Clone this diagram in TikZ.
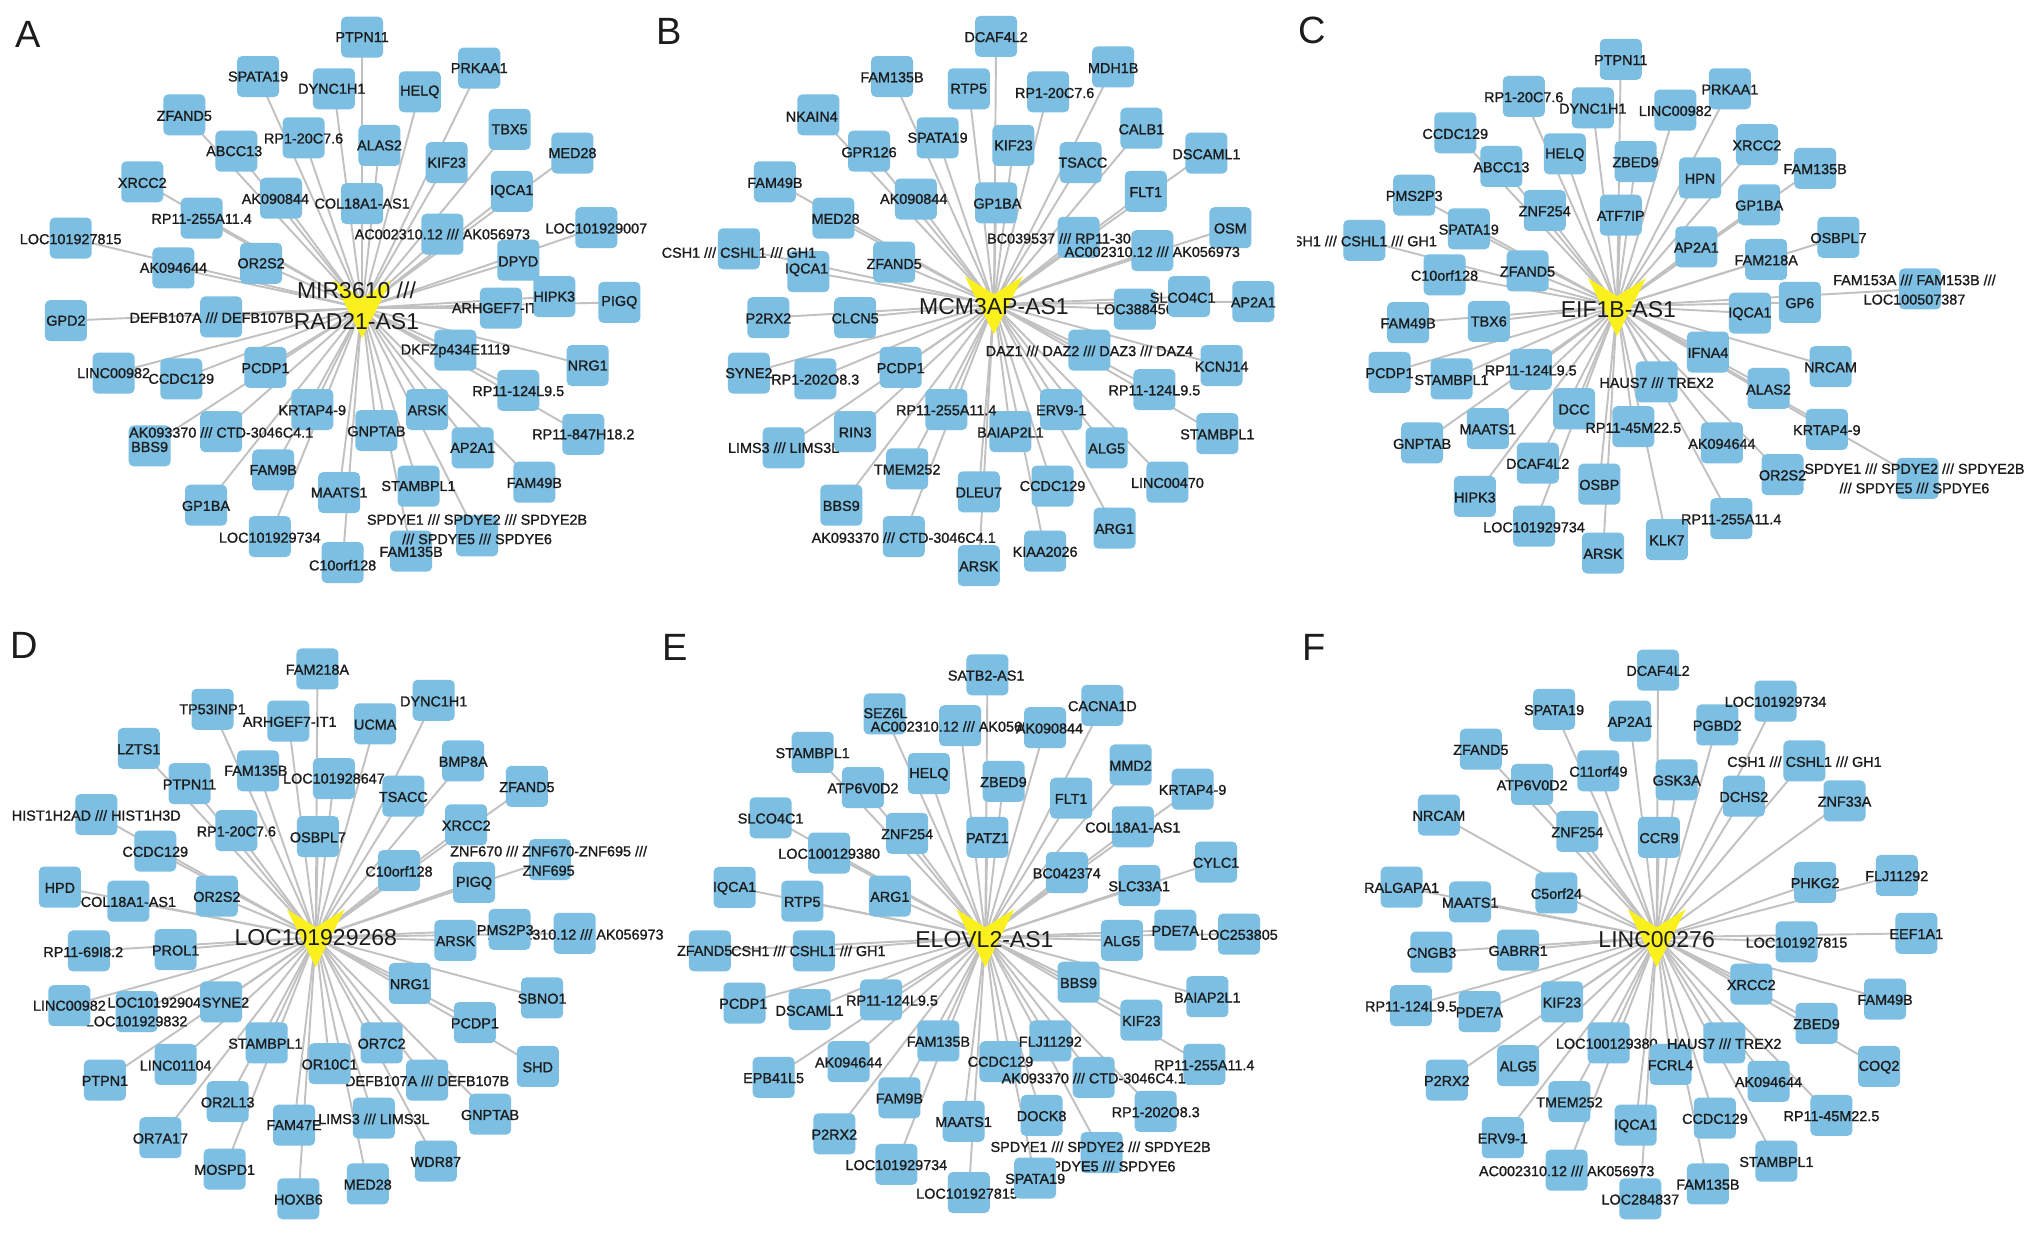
\documentclass[tikz,border=0pt]{standalone}
\usepackage{fontspec}
\setmainfont{Liberation Sans}
\newfontfamily\gfont{Liberation Sans}[FakeBold=1.2]
\definecolor{boxblue}{RGB}{124,191,227}
\definecolor{edgegray}{RGB}{193,193,193}
\definecolor{vyel}{RGB}{250,240,30}
\definecolor{txt}{RGB}{28,28,28}
\newcounter{gnc}
\tikzset{
  gbox/.style={rectangle,rounded corners=2.5pt,minimum width=21pt,minimum height=20.5pt,inner sep=0pt,fill=boxblue,draw=none},
  glab/.style={inner sep=0pt,align=center,text=txt,font=\gfont\fontsize{7.2pt}{9.7pt}\selectfont},
  clab/.style={inner sep=0pt,align=center,text=txt,font=\fontsize{11.5pt}{15.5pt}\selectfont},
  edge/.style={draw=edgegray,line width=0.95pt},
  plet/.style={inner sep=0pt,text=txt,font=\fontsize{19pt}{19pt}\selectfont}
}
% data: \gn{box}{label}{text} normal; \gu{box}{label}{text} drawn under other boxes;
% \go{box}{label}{text} drawn over other labels;
% \gx{box}{label1}{text1}{label2}{text2} under, two labels; \gc{box}{label}{text} clipped label
\newcommand\panelA{%
\gn{835,97}{835,97}{PTPN11}
\gn{595,200}{595,200}{SPATA19}
\gn{770,232}{765,232}{DYNC1H1}
\gn{968,240}{968,240}{HELQ}
\gn{1105,178}{1105,178}{PRKAA1}
\gn{425,300}{425,303}{ZFAND5}
\gn{700,360}{700,362}{RP1-20C7.6}
\gn{875,380}{875,380}{ALAS2}
\gn{545,395}{540,395}{ABCC13}
\gn{1175,338}{1175,338}{TBX5}
\gn{1320,400}{1320,400}{MED28}
\gn{1030,425}{1030,425}{KIF23}
\gn{328,475}{328,478}{XRCC2}
\gn{1180,500}{1180,500}{IQCA1}
\gn{648,518}{635,520}{AK090844}
\gn{835,532}{835,532}{COL18A1-AS1}
\gn{465,570}{465,572}{RP11-255A11.4}
\gn{163,622}{163,625}{LOC101927815}
\gn{1020,612}{1020,612}{AC002310.12 /// AK056973}
\gn{1375,595}{1375,597}{LOC101929007}
\gn{602,688}{602,688}{OR2S2}
\gn{400,700}{400,700}{AK094644}
\gn{1195,680}{1195,683}{DPYD}
\gu{1155,805}{1150,805}{ARHGEF7-IT1}
\gn{1278,775}{1278,775}{HIPK3}
\gn{1428,790}{1428,790}{PIGQ}
\gn{152,838}{152,838}{GPD2}
\gn{510,828}{488,830}{DEFB107A /// DEFB107B}
\gn{1050,915}{1050,917}{DKFZp434E1119}
\gn{1355,955}{1355,955}{NRG1}
\gn{262,975}{262,975}{LINC00982}
\gn{418,990}{418,990}{CCDC129}
\gn{612,960}{612,962}{PCDP1}
\gn{1195,1020}{1195,1022}{RP11-124L9.5}
\gn{720,1070}{720,1072}{KRTAP4-9}
\gn{985,1070}{985,1072}{ARSK}
\gn{510,1128}{510,1130}{AK093370 /// CTD-3046C4.1}
\gn{345,1165}{345,1168}{BBS9}
\gn{868,1125}{868,1127}{GNPTAB}
\gn{1345,1135}{1345,1135}{RP11-847H18.2}
\gn{1090,1170}{1090,1170}{AP2A1}
\gn{630,1228}{630,1228}{FAM9B}
\gn{965,1270}{965,1270}{STAMBPL1}
\gn{1232,1260}{1232,1262}{FAM49B}
\gn{782,1287}{782,1287}{MAATS1}
\gn{475,1320}{475,1322}{GP1BA}
\gn{1100,1400}{1100,1383}{SPDYE1 /// SPDYE2 /// SPDYE2B\\/// SPDYE5 /// SPDYE6}
\gn{622,1402}{622,1405}{LOC101929734}
\gn{948,1440}{948,1442}{FAM135B}
\gn{790,1470}{790,1477}{C10orf128}
}
\newcommand\panelB{%
\gn{775,95}{775,97}{DCAF4L2}
\gn{535,200}{535,202}{FAM135B}
\gn{712,232}{712,232}{RTP5}
\gn{1045,175}{1045,178}{MDH1B}
\gn{895,240}{910,243}{RP1-20C7.6}
\gn{365,300}{350,305}{NKAIN4}
\gn{640,360}{640,360}{SPATA19}
\gn{815,380}{815,380}{KIF23}
\gn{1110,335}{1110,338}{CALB1}
\gn{482,395}{482,398}{GPR126}
\gn{970,425}{975,425}{TSACC}
\gn{1260,400}{1260,403}{DSCAML1}
\gn{265,475}{265,478}{FAM49B}
\gn{1120,500}{1120,502}{FLT1}
\gn{590,520}{585,520}{AK090844}
\gn{775,530}{778,532}{GP1BA}
\gn{400,570}{405,572}{MED28}
\gn{1315,595}{1315,597}{OSM}
\gn{965,620}{920,623}{BC039537 /// RP11-30}
\gn{1135,655}{1135,658}{AC002310.12 /// AK056973}
\gn{182,650}{182,660}{CSH1 /// CSHL1 /// GH1}
\gn{342,710}{338,705}{IQCA1}
\gn{540,685}{540,690}{ZFAND5}
\gu{1095,808}{1095,808}{LOC388456}
\gn{1220,775}{1205,778}{SLCO4C1}
\gn{1368,788}{1368,790}{AP2A1}
\gn{250,830}{250,832}{P2RX2}
\gn{450,830}{450,832}{CLCN5}
\gn{990,915}{990,917}{DAZ1 /// DAZ2 /// DAZ3 /// DAZ4}
\gn{1295,955}{1295,958}{KCNJ14}
\gn{205,975}{205,975}{SYNE2}
\gn{358,990}{358,992}{RP1-202O8.3}
\gn{555,960}{555,962}{PCDP1}
\gn{1140,1018}{1140,1020}{RP11-124L9.5}
\gn{660,1070}{660,1072}{RP11-255A11.4}
\gn{925,1070}{925,1072}{ERV9-1}
\gn{808,1128}{808,1130}{BAIAP2L1}
\gn{450,1128}{450,1130}{RIN3}
\gn{1285,1133}{1285,1135}{STAMBPL1}
\gn{285,1170}{285,1170}{LIMS3 /// LIMS3L}
\gn{1030,1170}{1030,1172}{ALG5}
\gn{570,1225}{570,1227}{TMEM252}
\gn{735,1285}{735,1287}{DLEU7}
\gn{905,1270}{905,1270}{CCDC129}
\gn{1170,1260}{1170,1262}{LINC00470}
\gn{418,1320}{418,1322}{BBS9}
\gn{562,1402}{562,1405}{AK093370 /// CTD-3046C4.1}
\gn{1048,1380}{1048,1382}{ARG1}
\gn{888,1440}{888,1442}{KIAA2026}
\gn{735,1478}{735,1480}{ARSK}
}
\newcommand\panelC{%
\gn{688,155}{688,157}{PTPN11}
\gn{922,232}{922,234}{PRKAA1}
\gn{480,252}{480,254}{RP1-20C7.6}
\gn{628,282}{628,284}{DYNC1H1}
\gn{805,288}{805,290}{LINC00982}
\gn{333,347}{333,350}{CCDC129}
\gn{980,378}{980,380}{XRCC2}
\gn{568,402}{568,404}{HELQ}
\gn{720,422}{720,424}{ZBED9}
\gn{432,435}{432,437}{ABCC13}
\gn{1105,440}{1105,442}{FAM135B}
\gn{858,465}{858,467}{HPN}
\gn{245,510}{245,512}{PMS2P3}
\gn{525,550}{525,552}{ZNF254}
\gn{985,535}{985,537}{GP1BA}
\gn{688,562}{688,564}{ATF7IP}
\gn{362,598}{362,600}{SPATA19}
\gn{1155,620}{1155,622}{OSBPL7}
\gc{138,628}{128,630}{CSH1 /// CSHL1 /// GH1}
\gn{310,718}{310,720}{C10orf128}
\gn{488,708}{488,710}{ZFAND5}
\gn{850,645}{850,647}{AP2A1}
\gn{1000,678}{1000,680}{FAM218A}
\gn{1330,755}{1318,757}{FAM153A /// FAM153B ///\\LOC100507387}
\gn{1072,790}{1072,792}{GP6}
\gn{965,818}{965,820}{IQCA1}
\gn{232,843}{232,845}{FAM49B}
\gn{405,840}{405,840}{TBX6}
\gn{875,920}{875,922}{IFNA4}
\gn{1138,958}{1138,960}{NRCAM}
\gn{192,973}{192,975}{PCDP1}
\gn{325,990}{325,993}{STAMBPL1}
\gn{495,965}{495,968}{RP11-124L9.5}
\gn{765,998}{765,1000}{HAUS7 /// TREX2}
\gn{1005,1015}{1005,1018}{ALAS2}
\gn{588,1068}{588,1070}{DCC}
\gn{1130,1122}{1130,1124}{KRTAP4-9}
\gn{403,1120}{403,1122}{MAATS1}
\gn{715,1115}{715,1118}{RP11-45M22.5}
\gn{905,1157}{905,1160}{AK094644}
\gn{262,1157}{262,1160}{GNPTAB}
\gn{510,1210}{510,1212}{DCAF4L2}
\gn{1035,1240}{1035,1242}{OR2S2}
\gn{1325,1250}{1318,1250}{SPDYE1 /// SPDYE2 /// SPDYE2B\\/// SPDYE5 /// SPDYE6}
\gn{642,1265}{642,1267}{OSBP}
\gn{375,1297}{375,1300}{HIPK3}
\gn{502,1375}{502,1378}{LOC101929734}
\gn{925,1355}{925,1357}{RP11-255A11.4}
\gn{787,1410}{787,1412}{KLK7}
\gn{650,1445}{650,1447}{ARSK}
}
\newcommand\panelD{%
\gn{732,125}{732,127}{FAM218A}
\gn{490,228}{490,228}{TP53INP1}
\gn{1000,205}{1000,208}{DYNC1H1}
\gn{665,258}{668,260}{ARHGEF7-IT1}
\gn{865,265}{865,267}{UCMA}
\gn{320,328}{320,330}{LZTS1}
\gn{1068,360}{1068,362}{BMP8A}
\gn{595,385}{590,385}{FAM135B}
\gn{770,405}{770,405}{LOC101928647}
\gn{437,418}{437,420}{PTPN11}
\gn{1215,425}{1215,427}{ZFAND5}
\gn{930,450}{930,452}{TSACC}
\gn{222,497}{222,499}{HIST1H2AD /// HIST1H3D}
\gn{1075,523}{1075,525}{XRCC2}
\gn{545,538}{545,540}{RP1-20C7.6}
\gn{733,553}{733,555}{OSBPL7}
\gn{358,590}{358,592}{CCDC129}
\gn{1268,612}{1265,615}{ZNF670 /// ZNF670-ZNF695 ///\\ZNF695}
\gn{920,640}{920,642}{C10orf128}
\gn{138,682}{138,684}{HPD}
\gn{1093,670}{1093,672}{PIGQ}
\gn{296,718}{296,720}{COL18A1-AS1}
\gn{500,705}{500,707}{OR2S2}
\gu{1325,800}{1328,803}{AC002310.12 /// AK056973}
\gn{1175,790}{1165,792}{PMS2P3}
\gn{1050,818}{1050,820}{ARSK}
\gn{205,845}{192,848}{RP11-69I8.2}
\gn{405,842}{405,844}{PROL1}
\gn{945,928}{945,930}{NRG1}
\gn{1250,965}{1250,967}{SBNO1}
\gx{315,1000}{365,977}{LOC101929040}{315,1025}{LOC101929832}
\gn{160,985}{160,985}{LINC00982}
\gn{510,975}{520,977}{SYNE2}
\gn{1095,1028}{1095,1030}{PCDP1}
\gn{615,1080}{612,1082}{STAMBPL1}
\gn{880,1080}{880,1082}{OR7C2}
\gn{1240,1140}{1240,1142}{SHD}
\gn{405,1135}{405,1138}{LINC01104}
\gn{760,1133}{760,1135}{OR10C1}
\gn{242,1175}{242,1177}{PTPN1}
\gu{985,1175}{985,1177}{DEFB107A /// DEFB107B}
\gn{525,1230}{525,1232}{OR2L13}
\gn{1130,1262}{1130,1264}{GNPTAB}
\gn{678,1290}{678,1290}{FAM47E}
\gn{862,1272}{862,1274}{LIMS3 /// LIMS3L}
\gn{370,1322}{370,1324}{OR7A17}
\gn{1005,1382}{1005,1384}{WDR87}
\gn{518,1402}{518,1404}{MOSPD1}
\gn{848,1440}{848,1442}{MED28}
\gn{688,1478}{688,1480}{HOXB6}
}
\newcommand\panelE{%
\gn{755,140}{752,142}{SATB2-AS1}
\gn{518,240}{520,238}{SEZ6L}
\gn{692,270}{688,272}{AC002310.12 /// AK056973}
\gn{1020,218}{1020,220}{CACNA1D}
\go{888,275}{898,277}{AK090844}
\gn{352,338}{352,340}{STAMBPL1}
\gn{620,392}{620,394}{HELQ}
\gn{792,412}{792,414}{ZBED9}
\gn{1085,370}{1085,372}{MMD2}
\gn{468,428}{468,430}{ATP6V0D2}
\gn{948,455}{948,457}{FLT1}
\gn{1228,432}{1228,434}{KRTAP4-9}
\gn{255,505}{255,507}{SLCO4C1}
\gn{570,545}{570,547}{ZNF254}
\gn{755,555}{755,557}{PATZ1}
\gn{1090,528}{1090,530}{COL18A1-AS1}
\gn{390,595}{390,597}{LOC100129380}
\gn{938,645}{938,647}{BC042374}
\gn{1282,618}{1282,620}{CYLC1}
\gn{172,683}{172,685}{IQCA1}
\gn{328,718}{328,720}{RTP5}
\gn{530,705}{530,707}{ARG1}
\gn{1105,678}{1105,680}{SLC33A1}
\gn{1188,792}{1188,794}{PDE7A}
\gn{1335,802}{1335,804}{LOC253805}
\gn{1065,818}{1065,820}{ALG5}
\gn{115,845}{103,845}{ZFAND5}
\gn{355,845}{342,845}{CSH1 /// CSHL1 /// GH1}
\gn{195,978}{192,980}{PCDP1}
\gn{345,995}{345,998}{DSCAML1}
\gn{510,970}{535,972}{RP11-124L9.5}
\gn{965,925}{965,927}{BBS9}
\gn{1262,962}{1262,964}{BAIAP2L1}
\gn{1110,1022}{1110,1024}{KIF23}
\gn{642,1075}{642,1077}{FAM135B}
\gn{900,1075}{900,1077}{FLJ11292}
\gn{785,1128}{785,1128}{CCDC129}
\gn{435,1128}{435,1130}{AK094644}
\gn{262,1168}{262,1170}{EPB41L5}
\gn{1255,1135}{1255,1137}{RP11-255A11.4}
\gn{1000,1168}{1000,1170}{AK093370 /// CTD-3046C4.1}
\gn{552,1220}{552,1222}{FAM9B}
\gn{880,1265}{880,1267}{DOCK8}
\gn{700,1280}{700,1282}{MAATS1}
\gn{1143,1255}{1143,1257}{RP1-202O8.3}
\gn{402,1312}{402,1314}{P2RX2}
\gu{1018,1360}{1016,1370}{SPDYE1 /// SPDYE2 /// SPDYE2B\\/// SPDYE5 /// SPDYE6}
\gn{545,1390}{545,1392}{LOC101929734}
\gu{712,1462}{708,1465}{LOC101927815}
\gn{865,1425}{865,1427}{SPATA19}
}
\newcommand\panelF{%
\gn{768,128}{768,130}{DCAF4L2}
\gn{545,228}{545,230}{SPATA19}
\gn{1020,207}{1020,209}{LOC101929734}
\gn{708,258}{708,260}{AP2A1}
\gn{895,268}{895,270}{PGBD2}
\gn{388,330}{388,332}{ZFAND5}
\gn{1082,360}{1082,362}{CSH1 /// CSHL1 /// GH1}
\gn{640,385}{640,387}{C11orf49}
\gn{498,420}{498,422}{ATP6V0D2}
\gn{808,408}{808,410}{GSK3A}
\gn{952,450}{952,452}{DCHS2}
\gn{1168,462}{1168,464}{ZNF33A}
\gn{298,498}{298,500}{NRCAM}
\gn{595,540}{595,542}{ZNF254}
\gn{770,555}{770,557}{CCR9}
\gn{1280,652}{1280,654}{FLJ11292}
\gn{1105,670}{1105,672}{PHKG2}
\gn{218,682}{218,684}{RALGAPA1}
\gn{365,720}{365,722}{MAATS1}
\gn{550,697}{550,699}{C5orf24}
\gn{1322,800}{1322,802}{EEF1A1}
\gn{1065,822}{1065,824}{LOC101927815}
\gn{282,848}{282,850}{CNGB3}
\gn{468,843}{468,845}{GABRR1}
\gn{968,930}{968,932}{XRCC2}
\gn{1255,968}{1255,970}{FAM49B}
\gn{238,985}{238,987}{RP11-124L9.5}
\gn{385,1000}{385,1002}{PDE7A}
\gn{562,975}{562,977}{KIF23}
\gn{1108,1030}{1108,1032}{ZBED9}
\gu{662,1080}{658,1082}{LOC100129380}
\gn{910,1080}{910,1082}{HAUS7 /// TREX2}
\gn{795,1135}{795,1137}{FCRL4}
\gn{468,1138}{468,1140}{ALG5}
\gn{1242,1140}{1242,1142}{COQ2}
\gn{315,1175}{315,1177}{P2RX2}
\gn{1005,1178}{1005,1180}{AK094644}
\gn{578,1230}{578,1232}{TMEM252}
\gn{1140,1265}{1140,1267}{RP11-45M22.5}
\gn{890,1272}{890,1274}{CCDC129}
\gn{720,1290}{720,1292}{IQCA1}
\gn{435,1322}{435,1324}{ERV9-1}
\gn{1022,1382}{1022,1384}{STAMBPL1}
\gn{572,1405}{572,1407}{AC002310.12 /// AK056973}
\gn{875,1440}{875,1442}{FAM135B}
\gn{730,1478}{730,1480}{LOC284837}
}
\newcommand\allpanels{%
\begin{scope}[shift={(0,0)},xscale=0.4337,yscale=0.3827]
\coordinate (cA) at (835,805);\coordinate (lA) at (822,800);\def\ctr{cA}\panelA
\end{scope}
\begin{scope}[shift={(660,0)},xscale=0.4337,yscale=0.3827]
\coordinate (cB) at (770,795);\coordinate (lB) at (770,800);\def\ctr{cB}\panelB
\end{scope}
\begin{scope}[shift={(1300,0)},xscale=0.4662,yscale=0.3827]
\coordinate (cC) at (680,800);\coordinate (lC) at (683,810);\def\ctr{cC}\panelC
\end{scope}
\begin{scope}[shift={(0,620)},xscale=0.4337,yscale=0.3916]
\coordinate (cD) at (728,810);\coordinate (lD) at (728,812);\def\ctr{cD}\panelD
\end{scope}
\begin{scope}[shift={(660,620)},xscale=0.4337,yscale=0.3916]
\coordinate (cE) at (750,810);\coordinate (lE) at (748,815);\def\ctr{cE}\panelE
\end{scope}
\begin{scope}[shift={(1300,620)},xscale=0.4662,yscale=0.3916]
\coordinate (cF) at (765,810);\coordinate (lF) at (765,815);\def\ctr{cF}\panelF
\end{scope}
}
\begin{document}
\begin{tikzpicture}[x=0.5pt,y=-0.5pt]
\useasboundingbox (0,0) rectangle (2031,1234);
\fill[white] (0,0) rectangle (2031,1234);

% pass 1: named end points and connectors
\setcounter{gnc}{0}
\def\gn#1#2#3{\stepcounter{gnc}\edef\curid{n\arabic{gnc}}\coordinate (\curid) at (#1); \draw[edge] (\ctr) -- (\curid);}
\let\gu\gn \let\gc\gn \let\go\gn
\def\gx#1#2#3#4#5{\gn{#1}{}{}}
\allpanels

% pass 2: nodes whose labels are partly hidden by other boxes
\def\gn#1#2#3{}
\let\gc\gn \let\go\gn
\def\gu#1#2#3{\node[gbox] at (#1) {}; \node[glab] at (#2) {#3};}
\def\gx#1#2#3#4#5{\node[gbox] at (#1) {}; \node[glab] at (#2) {#3}; \node[glab] at (#4) {#5};}
\allpanels

% pass 3: boxes
\setcounter{gnc}{0}
\def\gn#1#2#3{\stepcounter{gnc}\edef\curid{n\arabic{gnc}}\node[gbox] (\curid) at (\curid) {};}
\let\gc\gn
\def\gu#1#2#3{\stepcounter{gnc}}
\let\go\gu
\def\gx#1#2#3#4#5{\stepcounter{gnc}}
\allpanels

% pass 4: labels
\def\gn#1#2#3{\node[glab] at (#2) {#3};}
\def\gu#1#2#3{}
\let\go\gu
\def\gx#1#2#3#4#5{}
\def\gc#1#2#3{\begin{scope}\clip (-6,-100) rectangle (1600,1700);\node[glab] at (#2) {#3};\end{scope}}
\allpanels

% pass 5: nodes drawn over the other labels
\def\gn#1#2#3{}
\let\gc\gn \let\gu\gn
\def\go#1#2#3{\node[gbox] at (#1) {}; \node[glab] at (#2) {#3};}
\allpanels

% panel letters
\node[plet] (LA) at (28,34) {A};
\node[plet] (LB) at (669,31) {B};
\node[plet] (LC) at (1312,30) {C};
\node[plet] (LD) at (24,645) {D};
\node[plet] (LE) at (675,647) {E};
\node[plet] (LF) at (1314,647) {F};

% centres
\foreach \cc in {cA,cB,cC,cD,cE,cF}{
  \fill[vyel] (\cc) ++(-14.5pt,14pt) -- ++(14.5pt,-9pt) -- ++(14.5pt,9pt) -- ++(-14.5pt,-29pt) -- cycle;
}
\node[clab] (tA) at (lA) {MIR3610 ///\\RAD21-AS1};
\node[clab] (tB) at (lB) {MCM3AP-AS1};
\node[clab] (tC) at (lC) {EIF1B-AS1};
\node[clab] (tD) at (lD) {LOC101929268};
\node[clab] (tE) at (lE) {ELOVL2-AS1};
\node[clab] (tF) at (lF) {LINC00276};
\end{tikzpicture}
\end{document}
